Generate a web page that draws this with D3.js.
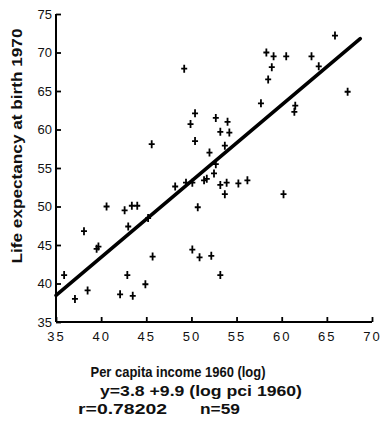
<!DOCTYPE html>
<html lang="en">
<head>
<meta charset="UTF-8">
<title>Life expectancy vs income</title>
<script src="https://cdn.jsdelivr.net/npm/d3@7"></script>
<style>
  body { margin: 0; background: #fff; }
  text { font-family: "Liberation Sans", Arial, sans-serif; fill: #111; }
</style>
</head>
<body>
<script type="text/javascript">
  // data: log per capita income 1960 (x10) and life expectancy 1970
  var income = [35.9, 37.1, 38.1, 38.5, 39.5, 39.7, 40.6, 42.1, 42.6, 42.9, 43.0, 43.4, 44.0, 43.5, 44.9, 45.2, 45.7, 45.6,
                49.2, 50.4, 49.9, 50.4, 52.7, 54.0, 53.2, 54.2, 53.7, 52.0, 52.7, 52.5, 51.7, 51.4, 48.2, 49.4, 50.1,
                53.2, 53.9, 53.7, 55.2, 56.2, 50.7, 50.1, 50.9, 52.2, 53.2,
                58.3, 59.1, 60.5, 58.9, 58.5, 57.7, 63.3, 64.1, 65.9, 67.3, 61.5, 61.4, 60.2];
  var lifeExp = [41.1, 38.0, 46.8, 39.1, 44.5, 44.8, 50.0, 38.6, 49.5, 41.1, 47.4, 50.1, 50.1, 38.4, 39.9, 48.5, 43.5, 58.1,
                 67.9, 62.1, 60.7, 58.5, 61.5, 61.0, 59.7, 59.6, 57.9, 57.0, 55.5, 54.3, 53.6, 53.4, 52.6, 53.1, 53.1,
                 52.8, 53.1, 51.6, 53.0, 53.4, 49.9, 44.4, 43.4, 43.6, 41.1,
                 70.0, 69.5, 69.5, 68.1, 66.5, 63.4, 69.5, 68.2, 72.2, 64.9, 63.1, 62.3, 51.6];
  var xTicks = [35, 40, 45, 50, 55, 60, 65, 70];
  var yTicks = [35, 40, 45, 50, 55, 60, 65, 70, 75];
  // fitted line y = 3.8 + 0.99 x, drawn over the range shown
  var fitRange = [35, 68.7];

  var w = 383;
  var h = 423;

  var xScale = d3.scaleLinear().domain([35, 70]).range([56, 372]);
  var yScale = d3.scaleLinear().domain([35, 75]).range([322, 14]);

  var svg = d3.select("body")
    .append("svg")
    .attr("width", w)
    .attr("height", h);

  // y axis
  var yAxis = d3.axisLeft(yScale).tickValues(yTicks).tickSize(-5).tickPadding(9);
  var gy = svg.append("g").attr("transform", "translate(56,0)").call(yAxis);
  gy.select(".domain").attr("stroke-width", 2).attr("d", "M0," + yScale(75) + "V" + yScale(35));
  gy.selectAll(".tick line").attr("stroke-width", 1.8);
  gy.selectAll(".tick text").style("font-size", "13px").attr("x", -4);

  // x axis
  var xAxis = d3.axisBottom(xScale).tickValues(xTicks).tickSize(-5).tickPadding(10);
  var gx = svg.append("g").attr("transform", "translate(0,322)").call(xAxis);
  gx.select(".domain").attr("stroke-width", 2).attr("d", "M" + xScale(35) + ",0H" + xScale(70));
  gx.selectAll(".tick line").attr("stroke-width", 1.8);
  gx.selectAll(".tick text").style("font-size", "13px").style("letter-spacing", "2px");

  // regression line
  svg.append("line")
    .attr("x1", xScale(fitRange[0]))
    .attr("y1", yScale(3.8 + 0.99 * fitRange[0]))
    .attr("x2", xScale(fitRange[1]))
    .attr("y2", yScale(3.8 + 0.99 * fitRange[1]))
    .attr("stroke", "#000")
    .attr("stroke-width", 3.6)
    .attr("stroke-linecap", "round");

  // points as plus marks
  svg.selectAll("path.pt")
    .data(income)
    .enter()
    .append("path")
    .attr("class", "pt")
    .attr("d", function(d, i) {
      var cx = xScale(d), cy = yScale(lifeExp[i]);
      return "M" + (cx - 3) + "," + cy + "H" + (cx + 3) + "M" + cx + "," + (cy - 4) + "V" + (cy + 4);
    })
    .attr("stroke", "#000")
    .attr("stroke-width", 1.8);

  function label(x, y, len, size, str, anchor) {
    return svg.append("text")
      .attr("x", x).attr("y", y)
      .attr("text-anchor", anchor || "start")
      .style("font-size", size + "px").style("font-weight", "bold")
      .attr("textLength", len)
      .attr("lengthAdjust", "spacingAndGlyphs")
      .text(str);
  }

  // y label
  label(0, 0, 235, 15, "Life expectancy at birth 1970", "middle")
    .attr("transform", "translate(22,146) rotate(-90)");

  // captions under the chart
  label(178, 377, 175, 15, "Per capita income 1960 (log)", "middle");
  label(201, 396, 202, 15, "y=3.8 +9.9 (log pci 1960)", "middle");
  label(78, 414, 89, 15, "r=0.78202");
  label(200, 414, 40, 15, "n=59");
</script>
</body>
</html>
